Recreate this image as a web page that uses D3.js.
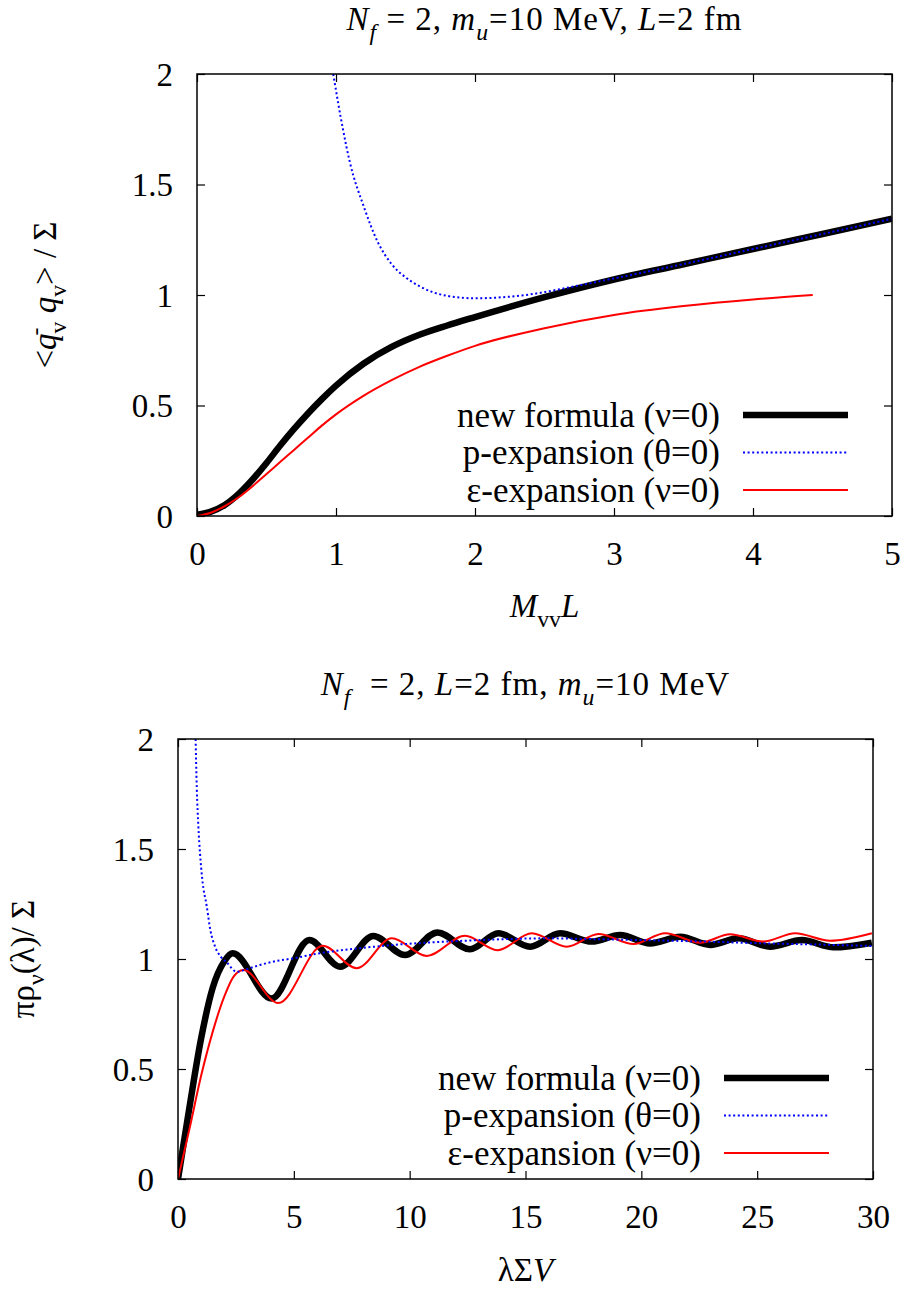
<!DOCTYPE html>
<html>
<head>
<meta charset="utf-8">
<script src="https://cdn.jsdelivr.net/npm/d3@7"></script>
<style>
  body { margin: 0; background: #fff; }
</style>
</head>
<body>
<div id="chart"></div>
<script>
// top panel: <qbar q>/Sigma vs M_vv L
var topX = [0, 0.1, 0.2, 0.3, 0.4, 0.5, 0.6, 0.7, 0.8, 0.9, 1.0, 1.2, 1.4, 1.6, 1.8, 2.0, 2.5, 3.0, 3.5, 4.0, 4.5, 5.0];
var topNew = [0.005, 0.02, 0.05, 0.1, 0.165, 0.24, 0.32, 0.395, 0.465, 0.53, 0.59, 0.69, 0.765, 0.82, 0.862, 0.9, 0.99, 1.07, 1.139, 1.208, 1.276, 1.345];
var topEpsX = [0, 0.1, 0.2, 0.3, 0.4, 0.5, 0.6, 0.7, 0.8, 0.9, 1.0, 1.2, 1.4, 1.6, 1.8, 2.0, 2.5, 3.0, 3.5, 4.0, 4.43];
var topEps = [0.0, 0.015, 0.045, 0.085, 0.135, 0.19, 0.245, 0.3, 0.355, 0.41, 0.46, 0.545, 0.615, 0.675, 0.725, 0.77, 0.85, 0.91, 0.95, 0.98, 1.0];
var topPX = [0.98, 1.05, 1.1, 1.2, 1.3, 1.4, 1.5, 1.6, 1.7, 1.8, 1.9, 2.0, 2.2, 2.4, 2.6, 2.8, 3.0, 3.5, 4.0, 4.5, 5.0];
var topP = [2.0, 1.75, 1.6, 1.4, 1.24, 1.14, 1.08, 1.04, 1.012, 0.996, 0.988, 0.985, 0.99, 1.003, 1.025, 1.05, 1.075, 1.14, 1.208, 1.276, 1.345];

// bottom panel: pi rho(lambda)/Sigma vs lambda Sigma V
var botNewX = [0, 0.5, 1.0, 1.5, 2.0, 2.36, 4.04, 5.67, 7.0, 8.43, 9.8, 11.2, 12.6, 13.83, 15.2, 16.49, 17.86, 19.08, 20.38, 21.68, 22.97, 24.19, 25.56, 26.93, 28.3, 29.95];
var botNew = [0, 0.33, 0.64, 0.87, 0.99, 1.026, 0.82, 1.086, 0.965, 1.105, 1.018, 1.121, 1.044, 1.117, 1.056, 1.117, 1.079, 1.109, 1.071, 1.101, 1.064, 1.094, 1.056, 1.086, 1.053, 1.074];
var botEpsX = [0, 0.5, 1.0, 1.5, 2.0, 2.4, 2.82, 4.33, 6.25, 7.71, 9.23, 10.74, 12.39, 13.79, 15.27, 16.78, 18.15, 19.66, 21.03, 22.54, 23.83, 25.27, 26.64, 28.15, 29.95];
var botEps = [0, 0.23, 0.47, 0.67, 0.83, 0.92, 0.95, 0.8, 1.06, 0.958, 1.094, 1.014, 1.106, 1.04, 1.117, 1.056, 1.114, 1.068, 1.117, 1.074, 1.112, 1.079, 1.117, 1.083, 1.117];
var botPX = [0.76, 0.81, 0.88, 0.95, 1.05, 1.24, 1.4, 1.6, 1.85, 2.1, 2.53, 3.0, 3.54, 4.2, 4.98, 6.0, 7.14, 8.2, 9.3, 10.7, 12.18, 14.0, 16.0, 18.0, 20.0, 22.8, 25.0, 27.5, 30.0];
var botP = [2.0, 1.78, 1.6, 1.48, 1.36, 1.24, 1.13, 1.056, 1.01, 0.985, 0.942, 0.955, 0.973, 0.99, 1.003, 1.024, 1.041, 1.053, 1.064, 1.074, 1.082, 1.09, 1.094, 1.09, 1.086, 1.079, 1.072, 1.066, 1.059];

var topXTicks = [0, 1, 2, 3, 4, 5];
var botXTicks = [0, 5, 10, 15, 20, 25, 30];
var yTicks = [0, 0.5, 1, 1.5, 2];
var legendLabels = ["new formula (\u03bd=0)", "p-expansion (\u03b8=0)", "\u03b5-expansion (\u03bd=0)"];

var FONT = "'Liberation Serif', 'Times New Roman', Times, 'DejaVu Serif', serif";

var svg = d3.select("#chart").append("svg")
  .attr("width", 909)
  .attr("height", 1292)
  .attr("font-family", FONT)
  .style("font-family", FONT);

var styles = [
  { stroke: "#000", width: 6.5, dash: null },
  { stroke: "#0000ff", width: 2, dash: "2,2.6" },
  { stroke: "#ff0000", width: 2, dash: null }
];

// write a string with italic / sub parts into a text element
function rich(sel, parts, fs) {
  var shift = 0;
  sel.style("font-family", FONT).style("font-size", fs + "px");
  parts.forEach(function(p) {
    var want = p.sub ? fs * 0.3 : (p.sup ? -fs * 0.4 : 0);
    var ts = sel.append("tspan").text(p.t)
      .attr("dy", want - shift)
      .style("font-size", (p.sub || p.sup ? fs * 0.72 : fs) + "px");
    if (p.i) ts.style("font-style", "italic");
    if (p.dx) ts.attr("dx", p.dx);
    shift = want;
  });
}

function panel(o) {
  var g = svg.append("g").attr("transform", `translate(${o.left}, ${o.top})`);
  var w = o.right - o.left, h = o.bottom - o.top;

  var x = d3.scaleLinear().domain(o.xDomain).range([0, w]);
  var y = d3.scaleLinear().domain([0, 2]).range([h, 0]);

  var fmt = d3.format("");
  g.append("g").attr("transform", `translate(0, ${h})`)
    .call(d3.axisBottom(x).tickValues(o.xTicks).tickSize(-8).tickFormat(fmt))
    .call(a => a.selectAll("text").attr("y", 49).attr("dy", 0)
      .style("font-family", FONT).style("font-size", "33px").attr("fill", "#000"));
  g.append("g")
    .call(d3.axisTop(x).tickValues(o.xTicks).tickSize(-8).tickFormat(""));
  g.append("g")
    .call(d3.axisLeft(y).tickValues(yTicks).tickSize(-8).tickFormat(fmt))
    .call(a => a.selectAll("text").attr("x", -24).attr("dy", "0.34em")
      .style("font-family", FONT).style("font-size", "33px").attr("fill", "#000"));
  g.append("g").attr("transform", `translate(${w}, 0)`)
    .call(d3.axisRight(y).tickValues(yTicks).tickSize(-8).tickFormat(""));
  g.selectAll(".domain").remove();
  g.selectAll(".tick line").attr("stroke", "#000").attr("stroke-width", 1.2);

  var clipId = "clip" + o.top;
  g.append("clipPath").attr("id", clipId).append("rect")
    .attr("width", w).attr("height", h);

  var line = d3.line()
    .x(d => x(d[0]))
    .y(d => y(d[1]))
    .curve(d3.curveMonotoneX);

  // draw order: new formula, eps, p (dotted on top)
  [0, 2, 1].forEach(function(k) {
    var s = o.series[k];
    var pts = s.x.map((v, i) => [v, s.y[i]]);
    g.append("path")
      .attr("clip-path", `url(#${clipId})`)
      .attr("d", line(pts))
      .attr("fill", "none")
      .attr("stroke", styles[k].stroke)
      .attr("stroke-width", styles[k].width)
      .attr("stroke-dasharray", styles[k].dash);
  });

  g.append("rect")
    .attr("width", w).attr("height", h)
    .attr("fill", "none").attr("stroke", "#000").attr("stroke-width", 1.5);

  // legend
  legendLabels.forEach(function(lab, i) {
    var yy = h - 101 + i * 37.5;
    g.append("text")
      .attr("x", w - 172).attr("y", yy)
      .attr("dy", "0.34em")
      .attr("text-anchor", "end")
      .style("font-family", FONT)
      .style("font-size", "35px")
      .text(lab);
    g.append("line")
      .attr("x1", w - 149).attr("x2", w - 44)
      .attr("y1", yy).attr("y2", yy)
      .attr("stroke", styles[i].stroke)
      .attr("stroke-width", styles[i].width)
      .attr("stroke-dasharray", styles[i].dash);
  });

  // title
  var t = svg.append("text")
    .attr("x", (o.left + o.right) / 2).attr("y", o.top - 44)
    .attr("text-anchor", "middle")
    .style("letter-spacing", "1px");
  rich(t, o.title, 33);

  // x label
  var xl = svg.append("text")
    .attr("x", (o.left + o.right) / 2).attr("y", o.bottom + o.xLabelGap)
    .attr("text-anchor", "middle");
  rich(xl, o.xLabel, 33);

  // y label
  var yl = svg.append("text")
    .attr("transform", `translate(${o.yLabelX}, ${(o.top + o.bottom) / 2}) rotate(-90)`)
    .attr("text-anchor", "middle");
  rich(yl, o.yLabel, 33);
}

panel({
  left: 197, right: 892, top: 74, bottom: 516,
  xDomain: [0, 5], xTicks: topXTicks,
  series: [
    { x: topX, y: topNew },
    { x: topPX, y: topP },
    { x: topEpsX, y: topEps }
  ],
  title: [
    { t: "N", i: true }, { t: "f", i: true, sub: true }, { t: " = 2, " },
    { t: "m", i: true }, { t: "u", i: true, sub: true }, { t: "=10 MeV, " },
    { t: "L", i: true }, { t: "=2 fm" }
  ],
  xLabel: [{ t: "M", i: true }, { t: "vv", sub: true }, { t: "L", i: true }],
  xLabelGap: 101,
  yLabel: [
    { t: "<" }, { t: "q", i: true }, { t: "-", sup: true, dx: -2 }, { t: "v", sub: true, dx: -6 },
    { t: " " }, { t: "q", i: true }, { t: "v", sub: true }, { t: "> / \u03a3" }
  ],
  yLabelX: 56
});

panel({
  left: 178, right: 873, top: 739, bottom: 1179,
  xDomain: [0, 30], xTicks: botXTicks,
  series: [
    { x: botNewX, y: botNew },
    { x: botPX, y: botP },
    { x: botEpsX, y: botEps }
  ],
  title: [
    { t: "N", i: true }, { t: "f", i: true, sub: true }, { t: "\u00a0\u00a0= 2, " },
    { t: "L", i: true }, { t: "=2 fm, " },
    { t: "m", i: true }, { t: "u", i: true, sub: true }, { t: "=10 MeV" }
  ],
  xLabel: [{ t: "\u03bb\u03a3" }, { t: "V", i: true }],
  xLabelGap: 102,
  yLabel: [
    { t: "\u03c0\u03c1" }, { t: "\u03bd", sub: true }, { t: "(\u03bb)/ \u03a3" }
  ],
  yLabelX: 34
});
</script>
</body>
</html>
